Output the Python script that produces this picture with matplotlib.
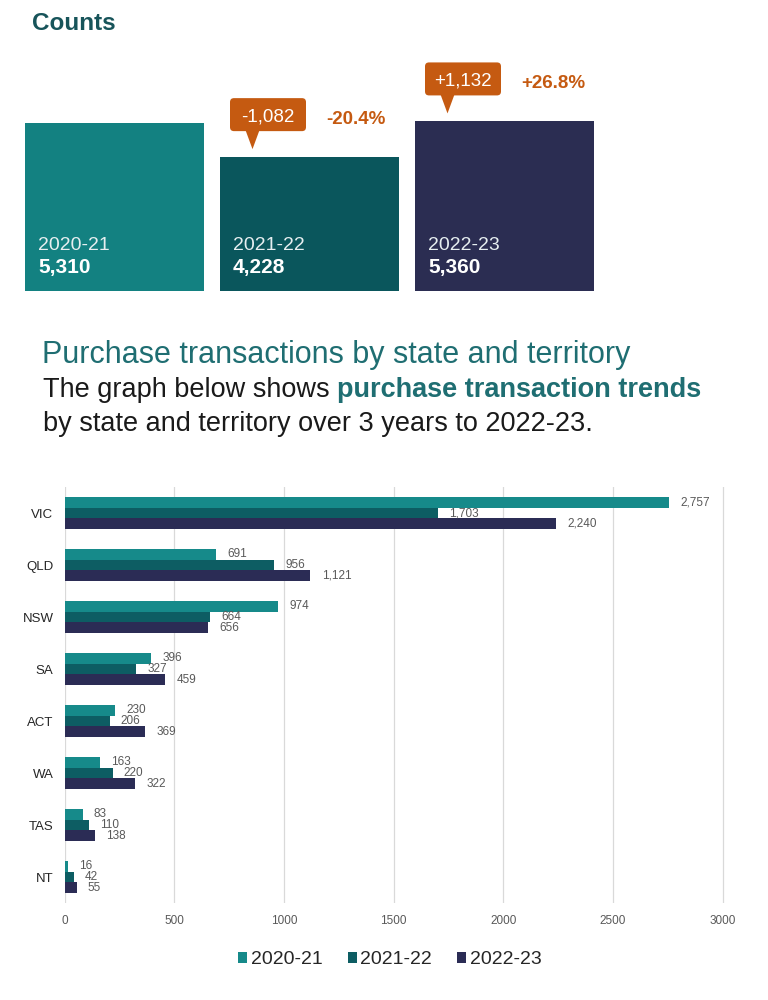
import matplotlib
matplotlib.use("Agg")
import matplotlib.pyplot as plt
from matplotlib.patches import FancyBboxPatch, Polygon, Patch
import numpy as np

plt.rcParams['font.family'] = ['Liberation Sans', 'DejaVu Sans']

# ---------------- data ----------------
years = ["2020-21", "2021-22", "2022-23"]
counts = [5310, 4228, 5360]

states = ["VIC", "QLD", "NSW", "SA", "ACT", "WA", "TAS", "NT"]
v2021 = [2757, 691, 974, 396, 230, 163, 83, 16]
v2122 = [1703, 956, 664, 327, 206, 220, 110, 42]
v2223 = [2240, 1121, 656, 459, 369, 322, 138, 55]
x_ticks = [0, 500, 1000, 1500, 2000, 2500, 3000]

title = "Purchase transactions by state and territory"
sub1a = "The graph below shows"
sub1b = "purchase transaction trends"
sub2 = "by state and territory over 3 years to 2022-23."

# ---------------- style ----------------
top_colors = ["#138181", "#0a565c", "#2b2d52"]
bar_colors = ["#168a8a", "#0d5d63", "#2b2c55"]
orange = "#c55a11"
title_teal = "#1f6e72"
counts_teal = "#17545a"

W, H = 768, 1000
fig = plt.figure(figsize=(7.68, 10), dpi=100)
fig.patch.set_facecolor('white')


def axes_px(l, t, r, b, **kw):
    return fig.add_axes([l / W, 1 - b / H, (r - l) / W, (b - t) / H], **kw)


# overlay axes in pixel coordinates (y downward)
ax0 = axes_px(0, 0, W, H)
ax0.set_xlim(0, W)
ax0.set_ylim(H, 0)
ax0.axis('off')
ax0.set_zorder(5)
ax0.patch.set_alpha(0)

# ---------------- top "Counts" boxes ----------------
ax1 = axes_px(17, 40, 602, 290.5)
ax1.set_xlim(-0.5, 2.5)
ax1.set_ylim(0, 5310 * (290.5 - 40) / 167.5)
ax1.axis('off')
bw = 0.913
ax1.bar(range(3), counts, width=bw, color=top_colors)
for i, (yr, c) in enumerate(zip(years, counts)):
    ax1.annotate(yr, xy=(i - bw / 2, 0), xytext=(12.5, 40), textcoords='offset pixels',
                 va='baseline', ha='left', fontsize=14, color='#e6eef0')
    ax1.annotate(f"{c:,}", xy=(i - bw / 2, 0), xytext=(12.5, 17), textcoords='offset pixels',
                 va='baseline', ha='left', fontsize=15, fontweight='bold', color='white')

ax0.text(32, 30, "Counts", fontsize=17.5, fontweight='bold', color=counts_teal, va='baseline')

# callouts
fig.canvas.draw()
inv = ax0.transData.inverted()
for i in (1, 2):
    diff = counts[i] - counts[i - 1]
    pct = diff / counts[i - 1] * 100
    cx, ty = inv.transform(ax1.transData.transform((i, counts[i])))
    left, right = cx - 79.5, cx - 3.5
    bot, top = ty - 26, ty - 59
    r = 4
    box = FancyBboxPatch((left + r, top + r), right - left - 2 * r, bot - top - 2 * r,
                         boxstyle=f"round,pad={r}", facecolor=orange, edgecolor='none',
                         transform=ax0.transData, zorder=6)
    ax0.add_patch(box)
    tipx = cx - 57
    tri = Polygon([(tipx - 7, bot - 1), (tipx + 7, bot - 1), (tipx, ty - 8)], closed=True,
                  facecolor=orange, edgecolor='none', zorder=6)
    ax0.add_patch(tri)
    mid = (top + bot) / 2
    ax0.text((left + right) / 2, mid + 6.5, f"{diff:+,}", ha='center', va='baseline',
             fontsize=13.5, color='white', zorder=7)
    ax0.text(right + 20, mid + 9.5, f"{pct:+.1f}%", ha='left', va='baseline',
             fontsize=13.5, fontweight='bold', color=orange, zorder=7)

# ---------------- titles ----------------
ax0.text(42, 363, title, fontsize=22, color=title_teal, va='baseline')
t1 = ax0.text(43, 397, sub1a, fontsize=19.5, color='#1a1a1a', va='baseline')
ax0.annotate(sub1b, xy=(1, 0), xycoords=t1, xytext=(7, 0), textcoords='offset pixels',
             va='bottom', ha='left', fontsize=19.5, fontweight='bold', color=title_teal)
ax0.text(43, 431, sub2, fontsize=19.5, color='#1a1a1a', va='baseline')

# ---------------- state bar chart ----------------
ax2 = axes_px(64.5, 487, 726, 903)
y = np.arange(len(states))
h = 0.21
series = [v2021, v2122, v2223]
for k, (vals, col) in enumerate(zip(series, bar_colors)):
    yy = y + (k - 1) * h
    ax2.barh(yy, vals, height=h, color=col, zorder=2)
    for v, yv in zip(vals, yy):
        ax2.annotate(f"{v:,}", xy=(v, yv), xytext=(8, 0), textcoords='offset points',
                     va='center', ha='left', fontsize=8.5, color='#595959', zorder=3)

ax2.set_xlim(0, 3015)
ax2.set_ylim(len(states) - 0.5, -0.5)
ax2.set_xticks(x_ticks)
ax2.set_xticklabels([str(t) for t in x_ticks])
ax2.set_yticks(y)
ax2.set_yticklabels(states)
ax2.grid(axis='x', color='#d9d9d9', lw=0.9, zorder=0)
ax2.set_axisbelow(True)
for s in ax2.spines.values():
    s.set_visible(False)
ax2.tick_params(axis='x', length=0, pad=8.5, labelsize=8.5, labelcolor='#595959')
ax2.tick_params(axis='y', length=0, pad=8, labelsize=9.5, labelcolor='#262626')
ax2.patch.set_alpha(0)

handles = [Patch(facecolor=c, edgecolor='none', label=yr) for c, yr in zip(bar_colors, years)]
fig.legend(handles=handles, loc='center', bbox_to_anchor=(390 / W, 1 - 960 / H), ncol=3,
           frameon=False, fontsize=14, handlelength=0.45, handleheight=0.5,
           handletextpad=0.2, columnspacing=1.3, labelcolor='#262626')

fig.savefig("out.png", dpi=100, facecolor='white')
